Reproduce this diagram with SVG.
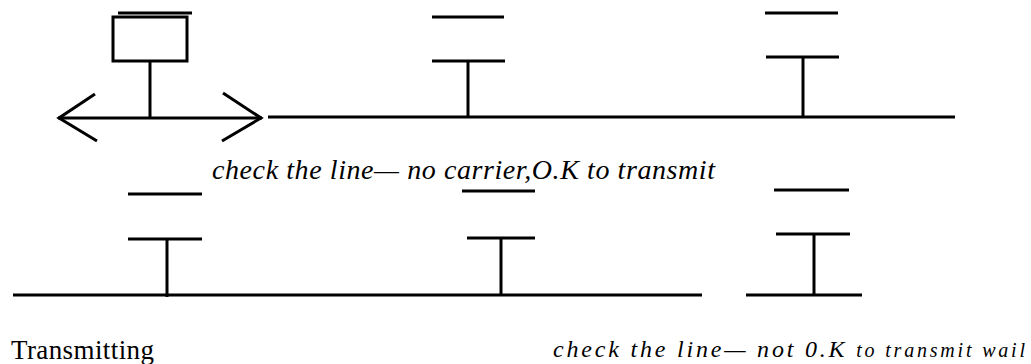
<svg xmlns="http://www.w3.org/2000/svg" width="1031" height="364" viewBox="0 0 1031 364">
  <style>
    .ln { stroke: #000; stroke-width: 3; fill: none; stroke-linecap: butt; }
    .it { font-family: "Liberation Serif", "Times New Roman", serif; font-style: italic; fill: #000; }
    .rm { font-family: "Liberation Serif", "Times New Roman", serif; fill: #000; }
  </style>
  <rect width="1031" height="364" fill="#fff"/>

  <!-- bus cables -->
  <g id="connectors">
    <line class="ln" x1="58" y1="118" x2="262" y2="118"/>
    <line class="ln" x1="268" y1="117" x2="955" y2="117"/>
    <polyline class="ln" points="95,94 59,118 97,141"/>
    <polyline class="ln" points="223,93 261,118 222,141"/>
    <line class="ln" x1="13" y1="295" x2="702" y2="295"/>
    <line class="ln" x1="746" y1="295" x2="862" y2="295"/>
  </g>

  <!-- transmitting station (top left) -->
  <g id="station-a">
    <line class="ln" x1="118" y1="13" x2="192" y2="13"/>
    <rect class="ln" x="113" y="17" width="74" height="44"/>
    <line class="ln" x1="150" y1="61" x2="150" y2="118"/>
  </g>

  <g id="station-b">
    <line class="ln" x1="432" y1="17" x2="504" y2="17"/>
    <line class="ln" x1="432" y1="61" x2="505" y2="61"/>
    <line class="ln" x1="468" y1="61" x2="468" y2="117"/>
  </g>

  <g id="station-c">
    <line class="ln" x1="765" y1="13" x2="838" y2="13"/>
    <line class="ln" x1="766" y1="57" x2="839" y2="57"/>
    <line class="ln" x1="803" y1="57" x2="803" y2="117"/>
  </g>

  <g id="station-d">
    <line class="ln" x1="128" y1="194" x2="202" y2="194"/>
    <line class="ln" x1="128" y1="239" x2="202" y2="239"/>
    <line class="ln" x1="167" y1="239" x2="167" y2="297"/>
  </g>

  <g id="station-e">
    <line class="ln" x1="462" y1="191" x2="535" y2="191"/>
    <line class="ln" x1="467" y1="238" x2="535" y2="238"/>
    <line class="ln" x1="501" y1="238" x2="501" y2="296"/>
  </g>

  <g id="station-f">
    <line class="ln" x1="774" y1="190" x2="849" y2="190"/>
    <line class="ln" x1="776" y1="234" x2="850" y2="234"/>
    <line class="ln" x1="814" y1="234" x2="814" y2="295"/>
  </g>

  <!-- captions -->
  <g id="labels">
    <text class="it" x="212" y="179" font-size="28" textLength="503" lengthAdjust="spacing">check the line— no carrier,O.K to transmit</text>
    <text class="rm" x="11" y="359" font-size="27" textLength="143" lengthAdjust="spacing">Transmitting</text>
    <text class="it" x="553" y="357" font-size="24" textLength="472" lengthAdjust="spacing">check the line— not 0.K <tspan font-size="20">to transmit wail</tspan></text>
  </g>
</svg>
